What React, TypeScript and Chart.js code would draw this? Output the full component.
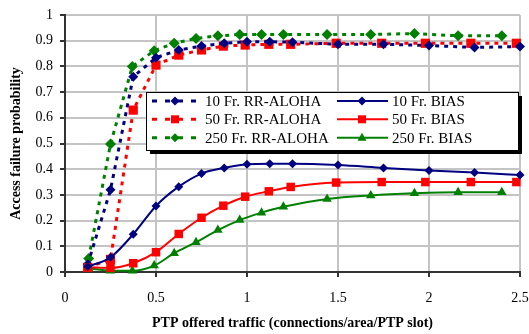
import React, { useEffect, useRef } from "react";
import { Chart, registerables } from "chart.js";

Chart.register(...registerables);

const NAVY = "#000080";
const RED = "#ff0000";
const GREEN = "#008000";

const xTicks = [0, 0.5, 1, 1.5, 2, 2.5];
const yTicks = [0, 0.1, 0.2, 0.3, 0.4, 0.5, 0.6, 0.7, 0.8, 0.9, 1];

const x10 = [0.125, 0.25, 0.375, 0.5, 0.625, 0.75, 0.875, 1.0, 1.125, 1.25, 1.5, 1.75, 2.0, 2.25, 2.5];
const rr10 = [0.03, 0.32, 0.76, 0.834, 0.864, 0.879, 0.89, 0.896, 0.896, 0.894, 0.886, 0.886, 0.881, 0.874, 0.877];
const bias10 = [0.021, 0.057, 0.147, 0.257, 0.332, 0.383, 0.405, 0.419, 0.421, 0.421, 0.416, 0.405, 0.395, 0.387, 0.377];

const x50 = [0.125, 0.25, 0.375, 0.5, 0.625, 0.75, 0.87, 0.99, 1.12, 1.24, 1.49, 1.74, 1.98, 2.23, 2.48];
const rr50 = [0.018, 0.049, 0.63, 0.805, 0.844, 0.864, 0.879, 0.883, 0.886, 0.886, 0.89, 0.89, 0.89, 0.89, 0.89];
const bias50 = [0.018, 0.016, 0.034, 0.077, 0.148, 0.211, 0.258, 0.293, 0.314, 0.331, 0.348, 0.35, 0.35, 0.35, 0.35];

const x250 = [0.13, 0.25, 0.37, 0.49, 0.6, 0.72, 0.84, 0.96, 1.08, 1.2, 1.44, 1.68, 1.92, 2.16, 2.4];
const rr250 = [0.053, 0.498, 0.8, 0.861, 0.89, 0.909, 0.919, 0.924, 0.924, 0.924, 0.924, 0.924, 0.928, 0.919, 0.919];
const bias250 = [0.014, 0.005, 0.005, 0.025, 0.073, 0.116, 0.163, 0.202, 0.231, 0.254, 0.284, 0.298, 0.306, 0.31, 0.31];

const legendLabels = [
  "10 Fr. RR-ALOHA",
  "50 Fr. RR-ALOHA",
  "250 Fr. RR-ALOHA",
  "10 Fr. BIAS",
  "50 Fr. BIAS",
  "250 Fr. BIAS",
];

const FONT = "'Liberation Serif', 'Times New Roman', serif";
const DASH = [4, 5];

const pts = (xs: number[], ys: number[]) => xs.map((x, i) => ({ x, y: ys[i] }));

function drawMarker(ctx: CanvasRenderingContext2D, style: string, x: number, y: number, r: number, color: string) {
  ctx.save();
  ctx.setLineDash([]);
  ctx.fillStyle = color;
  ctx.beginPath();
  if (style === "diamond") {
    ctx.moveTo(x, y - r);
    ctx.lineTo(x + r, y);
    ctx.lineTo(x, y + r);
    ctx.lineTo(x - r, y);
  } else if (style === "square") {
    ctx.rect(x - r, y - r, 2 * r, 2 * r);
  } else {
    ctx.moveTo(x, y - r * 1.1);
    ctx.lineTo(x + r, y + r * 0.7);
    ctx.lineTo(x - r, y + r * 0.7);
  }
  ctx.closePath();
  ctx.fill();
  ctx.restore();
}

const legendPlugin = {
  id: "boxLegend",
  afterDraw(chart: any) {
    const ctx: CanvasRenderingContext2D = chart.ctx;
    const bx = 146, by = 92, bw = 372, bh = 58;
    ctx.save();
    ctx.fillStyle = "#000";
    ctx.fillRect(bx + 4, by + 4, bw, bh);
    ctx.fillStyle = "#fff";
    ctx.fillRect(bx, by, bw, bh);
    ctx.strokeStyle = "#000";
    ctx.lineWidth = 1;
    ctx.strokeRect(bx + 0.5, by + 0.5, bw, bh);
    const rows = [101, 119.3, 137.7];
    const colors = [NAVY, RED, GREEN];
    const rrMarkers = ["diamond", "square", "diamond"];
    const biasMarkers = ["diamond", "square", "triangle"];
    ctx.font = `15px ${FONT}`;
    ctx.textBaseline = "middle";
    ctx.textAlign = "left";
    for (let i = 0; i < 3; i++) {
      const y = rows[i];
      ctx.strokeStyle = colors[i];
      ctx.lineWidth = 3;
      ctx.setLineDash([5, 8]);
      ctx.beginPath();
      ctx.moveTo(152, y);
      ctx.lineTo(200, y);
      ctx.stroke();
      drawMarker(ctx, rrMarkers[i], 175, y, i === 1 ? 4 : 4.5, colors[i]);
      ctx.fillStyle = "#000";
      ctx.fillText(legendLabels[i], 205, y + 1);
      ctx.setLineDash([]);
      ctx.strokeStyle = colors[i];
      ctx.lineWidth = 2;
      ctx.beginPath();
      ctx.moveTo(337, y);
      ctx.lineTo(388, y);
      ctx.stroke();
      drawMarker(ctx, biasMarkers[i], 362, y, i === 1 ? 4 : 4.5, colors[i]);
      ctx.fillStyle = "#000";
      ctx.fillText(legendLabels[i + 3], 392, y + 1);
    }
    ctx.restore();
  },
};

export default function App() {
  const ref = useRef<HTMLCanvasElement | null>(null);

  useEffect(() => {
    if (!ref.current) return;
    const common = { clip: false as any, pointBorderWidth: 0 };
    const chart = new Chart(ref.current, {
      type: "line",
      data: {
        datasets: [
          {
            label: legendLabels[3],
            data: pts(x10, bias10),
            borderColor: NAVY,
            backgroundColor: NAVY,
            borderWidth: 2,
            pointStyle: "rectRot",
            pointRadius: 4.5,
            cubicInterpolationMode: "monotone",
            ...common,
          },
          {
            label: legendLabels[4],
            data: pts(x50, bias50),
            borderColor: RED,
            backgroundColor: RED,
            borderWidth: 2,
            pointStyle: "rect",
            pointRadius: 6,
            cubicInterpolationMode: "monotone",
            ...common,
          },
          {
            label: legendLabels[5],
            data: pts(x250, bias250),
            borderColor: GREEN,
            backgroundColor: GREEN,
            borderWidth: 2,
            pointStyle: "triangle",
            pointRadius: 5.5,
            cubicInterpolationMode: "monotone",
            ...common,
          },
          {
            label: legendLabels[0],
            data: pts(x10, rr10),
            borderColor: NAVY,
            backgroundColor: NAVY,
            borderWidth: 3,
            borderDash: DASH,
            pointStyle: "rectRot",
            pointRadius: 5,
            ...common,
          },
          {
            label: legendLabels[2],
            data: pts(x250, rr250),
            borderColor: GREEN,
            backgroundColor: GREEN,
            borderWidth: 3,
            borderDash: DASH,
            pointStyle: "rectRot",
            pointRadius: 5.5,
            ...common,
          },
          {
            label: legendLabels[1],
            data: pts(x50, rr50),
            borderColor: RED,
            backgroundColor: RED,
            borderWidth: 3,
            borderDash: DASH,
            pointStyle: "rect",
            pointRadius: 6.5,
            ...common,
          },
        ],
      },
      options: {
        animation: false,
        responsive: false,
        maintainAspectRatio: false,
        layout: { padding: { top: 15, right: 9, left: 0, bottom: 0 } },
        plugins: {
          legend: { display: false },
          tooltip: { enabled: false },
        },
        scales: {
          x: {
            type: "linear",
            min: 0,
            max: 2.5,
            afterFit: (s: any) => {
              s.height = 62;
              s.paddingLeft = 0;
              s.paddingRight = 0;
            },
            afterBuildTicks: (s: any) => {
              s.ticks = xTicks.map((v) => ({ value: v }));
            },
            ticks: {
              font: { family: FONT, size: 14 },
              color: "#000",
              padding: 13,
              maxRotation: 0,
              callback: (v: any) => String(Number(Number(v).toFixed(1))),
            },
            grid: {
              color: "#c4c4c4",
              lineWidth: 2,
              tickColor: "#333",
              tickLength: 5,
            },
            border: { color: "#333", width: 2 },
            title: {
              display: true,
              text: "PTP offered traffic (connections/area/PTP slot)",
              font: { family: FONT, size: 14, weight: "bold" },
              color: "#000",
              padding: { top: 0, bottom: 2 },
            },
          },
          y: {
            type: "linear",
            min: 0,
            max: 1,
            afterFit: (s: any) => {
              s.width = 65;
              s.paddingTop = 0;
              s.paddingBottom = 0;
            },
            afterBuildTicks: (s: any) => {
              s.ticks = yTicks.map((v) => ({ value: v }));
            },
            ticks: {
              font: { family: FONT, size: 14 },
              color: "#000",
              padding: 7,
              callback: (v: any) => String(Number(Number(v).toFixed(1))),
            },
            grid: {
              color: "#c4c4c4",
              lineWidth: 2,
              tickColor: "#333",
              tickLength: 5,
            },
            border: { color: "#333", width: 2 },
            title: {
              display: true,
              text: "Access failure probability",
              font: { family: FONT, size: 14, weight: "bold" },
              color: "#000",
              padding: { top: 8, bottom: 0 },
            },
          },
        },
      },
      plugins: [legendPlugin],
    } as any);
    return () => chart.destroy();
  }, []);

  return (
    <div style={{ position: "fixed", left: 0, top: 0, width: 529, height: 334, background: "#fff" }}>
      <canvas ref={ref} width={529} height={334} style={{ width: 529, height: 334, display: "block" }} />
    </div>
  );
}
